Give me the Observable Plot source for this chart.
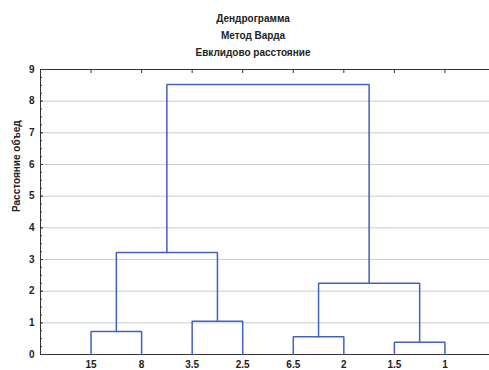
<!DOCTYPE html>
<html><head><meta charset="utf-8">
<script src="https://cdn.jsdelivr.net/npm/d3@7"></script>
<script src="https://cdn.jsdelivr.net/npm/@observablehq/plot@0.6"></script>
<style>
body{margin:0;background:#fff;font-family:"Liberation Sans",Arial,sans-serif;}
#titles{width:489px;padding-top:10px;padding-left:17px;box-sizing:border-box;text-align:center;font-weight:bold;font-size:10px;line-height:17px;color:#222;}
#titles div{height:17px;}
</style></head><body>
<div id="titles"><div>Дендрограмма</div><div>Метод Варда</div><div>Евклидово расстояние</div></div>
<div id="chart"></div>
<script>
const leafLabels = ["15","8","3.5","2.5","6.5","2","1.5","1"];
// merges: child node ids (0-7 leaves, 8+ earlier merges) and linkage heights
const mergeLeft   = [6, 4, 0, 2, 9, 10, 13];
const mergeRight  = [7, 5, 1, 3, 8, 11, 12];
const mergeHeight = [0.39, 0.56, 0.73, 1.05, 2.25, 3.22, 8.53];
const yTicks = [0,1,2,3,4,5,6,7,8,9];
const yLabel = "Расстояние объед";

const pos = leafLabels.map((d, i) => i + 1);
const hgt = leafLabels.map(() => 0);
const segments = [];
mergeHeight.forEach((H, k) => {
  const l = mergeLeft[k], r = mergeRight[k];
  segments.push({k, x: pos[l], y: hgt[l]}, {k, x: pos[l], y: H}, {k, x: pos[r], y: H}, {k, x: pos[r], y: hgt[r]});
  pos.push((pos[l] + pos[r]) / 2);
  hgt.push(H);
});
const leafPos = leafLabels.map((d, i) => i + 1);
const minorTicks = d3.range(0, 9.001, 0.25);

const chart = Plot.plot({
  width: 489, height: 309,
  marginTop: 8, marginBottom: 16, marginLeft: 40, marginRight: 0,
  style: {fontFamily: "Liberation Sans, Arial, sans-serif", fontSize: "10px", fontWeight: "bold", color: "#222", background: "#fff", overflow: "hidden"},
  x: {domain: [0, 9], range: [40, 495]},
  y: {domain: [0, 9]},
  marks: [
    Plot.gridY(yTicks, {stroke: "#c8cfcf", strokeOpacity: 1}),
    Plot.ruleY([0, 9], {stroke: "#333"}),
    Plot.ruleX([0], {stroke: "#333"}),
    Plot.axisY(minorTicks, {tickSize: -2, tickFormat: () => "", label: null, stroke: "#333"}),
    Plot.axisY(yTicks, {tickSize: -3, tickPadding: 9, label: null, stroke: "#333"}),
    Plot.axisX(leafPos, {anchor: "top", tickSize: -3, tickFormat: () => "", label: null, stroke: "#333"}),
    Plot.axisX(leafPos, {anchor: "bottom", tickSize: 0, tickPadding: 6, tickFormat: i => leafLabels[i - 1], label: null}),
    Plot.line(segments, {x: "x", y: "y", z: "k", stroke: "#4262bd", strokeWidth: 1.5, strokeLinejoin: "miter", curve: "linear"}),
    Plot.text([yLabel], {frameAnchor: "left", dx: -24, rotate: -90, fontWeight: "bold", fill: "#222"})
  ]
});
document.getElementById("chart").append(chart);
</script>
</body></html>
